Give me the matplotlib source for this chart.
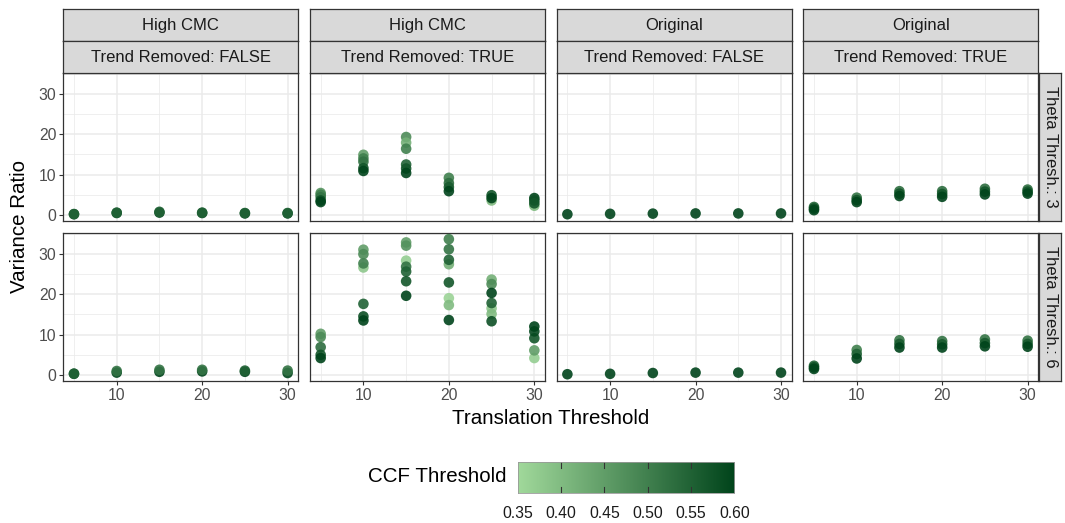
import matplotlib.pyplot as plt
from matplotlib.colors import LinearSegmentedColormap, Normalize
import numpy as np

plt.rcParams['font.family'] = ['Liberation Sans', 'DejaVu Sans']

# facet labels
cmc_labels = ["High CMC", "High CMC", "Original", "Original"]
trend_labels = ["Trend Removed: FALSE", "Trend Removed: TRUE",
                "Trend Removed: FALSE", "Trend Removed: TRUE"]
theta_labels = ["Theta Thresh.: 3", "Theta Thresh.: 6"]
ccf_ticks = [0.35, 0.40, 0.45, 0.50, 0.55, 0.60]

# (translation threshold, variance ratio, ccf threshold)
hc_false_t3 = [(5, 0.2, 0.60), (5, 0.25, 0.55), (10, 0.5, 0.60), (10, 0.6, 0.55),
               (15, 0.6, 0.60), (15, 0.8, 0.55), (20, 0.5, 0.60), (20, 0.6, 0.55),
               (25, 0.4, 0.60), (25, 0.5, 0.55), (30, 0.4, 0.60), (30, 0.5, 0.55)]
hc_false_t6 = [(5, 0.3, 0.60), (5, 0.35, 0.55), (10, 0.6, 0.60), (10, 1.0, 0.52),
               (15, 0.8, 0.60), (15, 1.3, 0.52), (20, 0.9, 0.60), (20, 1.3, 0.52),
               (25, 0.8, 0.60), (25, 1.1, 0.55), (30, 0.5, 0.60), (30, 1.1, 0.52)]
hc_true_t3 = [(5, 5.45, 0.47), (5, 5.0, 0.50), (5, 4.4, 0.52), (5, 3.6, 0.58), (5, 3.2, 0.60),
              (10, 14.9, 0.45), (10, 14.0, 0.50), (10, 13.2, 0.52), (10, 11.6, 0.57), (10, 10.9, 0.60),
              (15, 19.3, 0.48), (15, 17.9, 0.42), (15, 16.4, 0.50), (15, 12.5, 0.55),
              (15, 11.5, 0.57), (15, 10.4, 0.60),
              (20, 9.2, 0.50), (20, 7.9, 0.53), (20, 6.9, 0.56), (20, 5.9, 0.60),
              (25, 3.6, 0.40), (25, 4.9, 0.57), (25, 4.2, 0.60),
              (30, 2.3, 0.40), (30, 4.2, 0.60), (30, 3.6, 0.58), (30, 2.9, 0.57)]
hc_true_t6 = [(5, 10.2, 0.45), (5, 9.4, 0.48), (5, 6.9, 0.53), (5, 5.0, 0.57), (5, 4.2, 0.60),
              (10, 26.6, 0.38), (10, 31.0, 0.45), (10, 29.9, 0.48), (10, 27.6, 0.50),
              (10, 17.6, 0.55), (10, 14.5, 0.58), (10, 13.5, 0.60),
              (15, 28.3, 0.37), (15, 32.8, 0.45), (15, 32.0, 0.47), (15, 26.8, 0.52),
              (15, 25.6, 0.55), (15, 23.2, 0.57), (15, 19.6, 0.60),
              (20, 19.0, 0.36), (20, 17.3, 0.40), (20, 27.4, 0.42), (20, 33.6, 0.50),
              (20, 31.1, 0.52), (20, 28.5, 0.55), (20, 22.9, 0.57), (20, 13.6, 0.60),
              (25, 16.5, 0.38), (25, 15.1, 0.40), (25, 23.6, 0.42), (25, 22.5, 0.48),
              (25, 17.8, 0.55), (25, 13.3, 0.58), (25, 20.3, 0.60),
              (30, 4.2, 0.37), (30, 6.1, 0.45), (30, 9.1, 0.57), (30, 10.8, 0.59), (30, 12.0, 0.60)]
orig_false_t3 = [(5, 0.2, 0.60), (10, 0.3, 0.60), (15, 0.35, 0.60),
                 (20, 0.4, 0.60), (25, 0.4, 0.60), (30, 0.4, 0.60)]
orig_false_t6 = [(5, 0.2, 0.60), (10, 0.3, 0.60), (15, 0.5, 0.60),
                 (20, 0.6, 0.60), (25, 0.6, 0.60), (30, 0.6, 0.60)]
orig_true_t3 = [(5, 2.0, 0.55), (5, 1.6, 0.58), (5, 1.2, 0.60),
                (10, 4.3, 0.52), (10, 3.7, 0.57), (10, 3.2, 0.60),
                (15, 5.9, 0.53), (15, 5.3, 0.57), (15, 4.7, 0.60),
                (20, 5.9, 0.53), (20, 5.2, 0.57), (20, 4.5, 0.60),
                (25, 6.5, 0.53), (25, 5.8, 0.57), (25, 5.1, 0.60),
                (30, 6.3, 0.53), (30, 5.8, 0.57), (30, 5.3, 0.60)]
orig_true_t6 = [(5, 2.3, 0.55), (5, 1.9, 0.58), (5, 1.5, 0.60),
                (10, 6.2, 0.50), (10, 5.2, 0.55), (10, 4.1, 0.60),
                (15, 8.6, 0.52), (15, 7.7, 0.56), (15, 6.8, 0.60),
                (20, 8.4, 0.52), (20, 7.6, 0.56), (20, 6.8, 0.60),
                (25, 8.8, 0.52), (25, 7.9, 0.56), (25, 7.1, 0.60),
                (30, 8.5, 0.52), (30, 7.7, 0.56), (30, 7.0, 0.60)]

panels = [[hc_false_t3, hc_true_t3, orig_false_t3, orig_true_t3],
          [hc_false_t6, hc_true_t6, orig_false_t6, orig_true_t6]]

W, H = 1065, 523
fig = plt.figure(figsize=(W / 100, H / 100), dpi=100)

def box(x0, y0, x1, y1):
    # pixel box (top-left origin) -> figure fraction
    return [x0 / W, 1 - y1 / H, (x1 - x0) / W, (y1 - y0) / H]

cmap = LinearSegmentedColormap.from_list("greens", ["#A1D99B", "#00441B"])
norm = Normalize(0.35, 0.60)
border = "#333333"
tick_col = "#4D4D4D"

col_x = [63.3, 310.0, 556.7, 803.3]
pw = 235.0
row_y = [72.7, 232.7]
ph = 148.0

for r in range(2):
    for c in range(4):
        ax = fig.add_axes(box(col_x[c], row_y[r], col_x[c] + pw, row_y[r] + ph))
        pts = np.array(panels[r][c])
        ax.scatter(pts[:, 0], pts[:, 1], c=pts[:, 2], cmap=cmap, norm=norm,
                   s=58, alpha=0.9, edgecolors="none", zorder=3)
        ax.set_xlim(3.75, 31.25)
        ax.set_ylim(-1.4, 35.2)
        ax.set_xticks([10, 20, 30])
        ax.set_xticks([5, 15, 25], minor=True)
        ax.set_yticks([0, 10, 20, 30])
        ax.set_yticks([5, 15, 25, 35], minor=True)
        ax.grid(which="major", color="#EBEBEB", lw=1.1, zorder=0)
        ax.grid(which="minor", color="#EBEBEB", lw=0.55, zorder=0)
        ax.set_axisbelow(True)
        for s in ax.spines.values():
            s.set_color(border)
            s.set_linewidth(0.9)
        ax.tick_params(which="minor", length=0)
        ax.tick_params(which="major", length=3, color=border, width=0.8,
                       labelsize=11.3, labelcolor=tick_col, pad=2)
        if c > 0:
            ax.tick_params(axis="y", labelleft=False, length=0)
        if r == 0:
            ax.tick_params(axis="x", labelbottom=False, length=0)

# column strips
for c in range(4):
    for y0, y1, lab in [(9.3, 41.3, cmc_labels[c]), (41.3, 72.7, trend_labels[c])]:
        sa = fig.add_axes(box(col_x[c], y0, col_x[c] + pw, y1))
        sa.set_facecolor("#D9D9D9")
        sa.set_xticks([])
        sa.set_yticks([])
        for s in sa.spines.values():
            s.set_color(border)
            s.set_linewidth(0.9)
        sa.text(0.5, 0.5, lab, ha="center", va="center", fontsize=12,
                color="#1A1A1A", transform=sa.transAxes)

# row strips
for r in range(2):
    sa = fig.add_axes(box(1039, row_y[r], 1061, row_y[r] + ph))
    sa.set_facecolor("#D9D9D9")
    sa.set_xticks([])
    sa.set_yticks([])
    for s in sa.spines.values():
        s.set_color(border)
        s.set_linewidth(0.9)
    sa.text(0.5, 0.5, theta_labels[r], ha="center", va="center", fontsize=12,
            rotation=-90, color="#1A1A1A", transform=sa.transAxes)

fig.text(550.8 / W, 1 - 418 / H, "Translation Threshold", ha="center", va="center",
         fontsize=14.8)
fig.text(20 / W, 1 - 226.5 / H, "Variance Ratio", ha="center", va="center",
         fontsize=14.8, rotation=90)

# colorbar legend
cax = fig.add_axes(box(517.7, 461.7, 734.3, 493.3))
grad = np.linspace(0.35, 0.60, 256).reshape(1, -1)
cax.imshow(grad, aspect="auto", cmap=cmap, norm=norm, extent=(0.35, 0.60, 0, 1))
cax.set_xlim(0.35, 0.60)
cax.set_ylim(0, 1)
cax.set_yticks([])
cax.set_xticks(ccf_ticks)
cax.set_xticklabels([f"{v:.2f}" for v in ccf_ticks])
cax.tick_params(axis="x", length=0, labelsize=11.3, labelcolor="#1A1A1A", pad=9)
for v in ccf_ticks[1:-1]:
    cax.plot([v, v], [0, 0.2], color="#333333", lw=0.8)
    cax.plot([v, v], [0.8, 1], color="#333333", lw=0.8)
for s in cax.spines.values():
    s.set_color("#999999")
    s.set_linewidth(0.6)
fig.text(506 / W, 1 - 477 / H, "CCF Threshold", ha="right", va="center", fontsize=14.8)

fig.savefig("out.png", dpi=100)
